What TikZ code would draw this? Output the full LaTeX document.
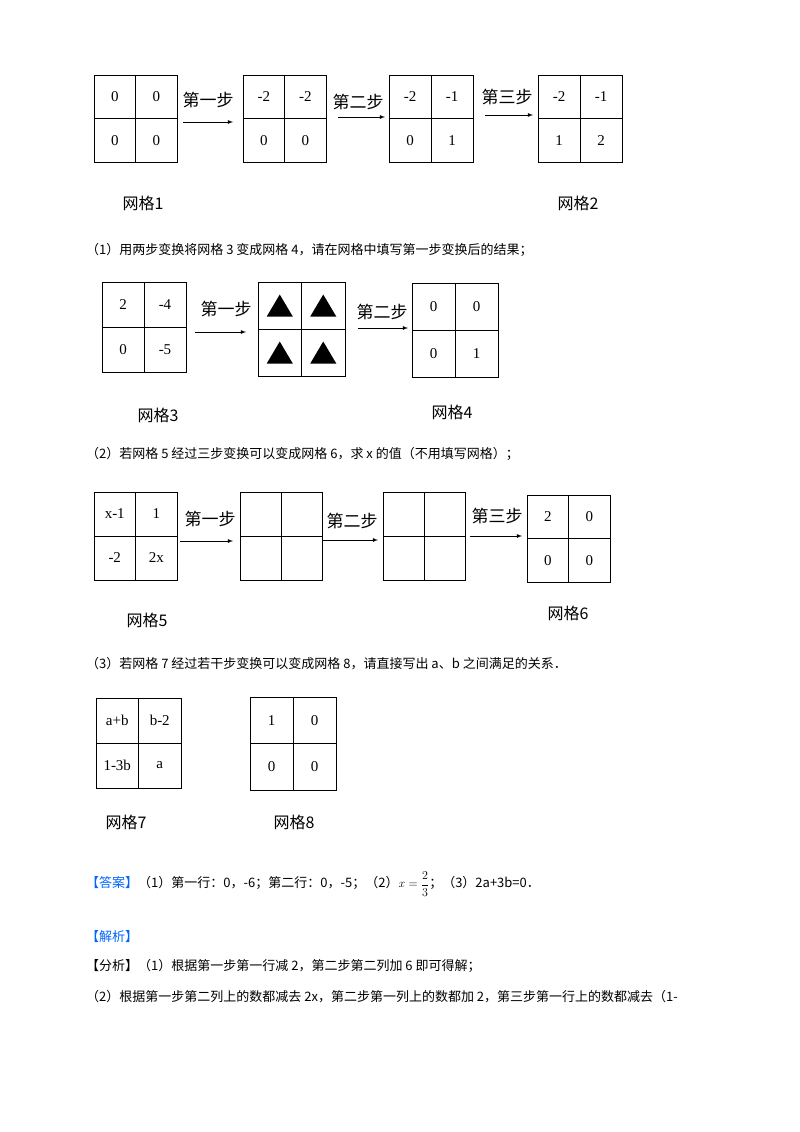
\documentclass[tikz,border=0pt]{standalone}
\usepackage{fontspec}
\setmainfont{Liberation Serif}
\newfontfamily\cjk{Noto Sans CJK SC}
\begin{document}
\begin{tikzpicture}[x=1pt,y=-1pt,
  cell/.style={font=\fontsize{15}{15}\selectfont},
  lab/.style={font=\cjk\fontsize{16}{16}\selectfont},
  steplab/.style={font=\cjk\fontsize{17}{17}\selectfont},
  txt/.style={font=\cjk\fontsize{13}{13}\selectfont,anchor=west,inner sep=0},
  arr/.style={-latex,thick}]
\useasboundingbox[fill=white] (0,0) rectangle (800,1132);
\newcommand\mygrid[9]{%
  \draw[thick] (#2,#3) rectangle (#4,#5);
  \draw[thick] ({(#2+#4)/2},#3) -- ({(#2+#4)/2},#5) (#2,{(#3+#5)/2}) -- (#4,{(#3+#5)/2});
  \node[cell] at ({(3*#2+#4)/4},{(3*#3+#5)/4}) {#6};
  \node[cell] at ({(#2+3*#4)/4},{(3*#3+#5)/4}) {#7};
  \node[cell] at ({(3*#2+#4)/4},{(#3+3*#5)/4}) {#8};
  \node[cell] at ({(#2+3*#4)/4},{(#3+3*#5)/4}) {#9};}
\newcommand\tri{\tikz[x=1pt,y=1pt]\fill (0,0)--(26,0)--(13,22)--cycle;}
% row 1
\mygrid{g1}{94}{75}{177}{162}{0}{0}{0}{0}
\mygrid{g1b}{243}{75}{326}{162}{-2}{-2}{0}{0}
\mygrid{g1c}{389}{75}{473}{162}{-2}{-1}{0}{1}
\mygrid{g2}{538}{75}{622}{162}{-2}{-1}{1}{2}
\node[steplab] (s11) at (208,100) {第一步};
\coordinate (a11) at (183,122); \coordinate (b11) at (233,122);
\draw[arr] (a11) -- (b11);
\node[steplab] (s12) at (358,102) {第二步};
\coordinate (a12) at (338,117); \coordinate (b12) at (385,117);
\draw[arr] (a12) -- (b12);
\node[steplab] (s13) at (507,97) {第三步};
\coordinate (a13) at (485,115); \coordinate (b13) at (533,115);
\draw[arr] (a13) -- (b13);
\node[lab] (l1) at (143,203) {网格1};
\node[lab] (l2) at (578,203) {网格2};
\node[txt] (t1) at (86,250) {（1）用两步变换将网格 3 变成网格 4，请在网格中填写第一步变换后的结果；};
% row 2
\mygrid{g3}{102}{282}{186}{372}{2}{-4}{0}{-5}
\mygrid{gt}{258}{282}{345}{376}{\tri}{\tri}{\tri}{\tri}
\mygrid{g4}{412}{283}{498}{377}{0}{0}{0}{1}
\node[steplab] (s21) at (226,309) {第一步};
\coordinate (a21) at (195,332); \coordinate (b21) at (246,332);
\draw[arr] (a21) -- (b21);
\node[steplab] (s22) at (382,312) {第二步};
\coordinate (a22) at (358,328); \coordinate (b22) at (408,328);
\draw[arr] (a22) -- (b22);
\node[lab] (l3) at (158,415) {网格3};
\node[lab] (l4) at (452,412) {网格4};
\node[txt] (t2) at (86,454) {（2）若网格 5 经过三步变换可以变成网格 6，求 \textit{x} 的值（不用填写网格）；};
% row 3
\mygrid{g5}{94}{492}{177}{580}{x-1}{1}{-2}{2x}
\mygrid{g5b}{240}{492}{322}{580}{}{}{}{}
\mygrid{g5c}{383}{492}{465}{580}{}{}{}{}
\mygrid{g6}{527}{495}{610}{582}{2}{0}{0}{0}
\node[steplab] (s31) at (210,519) {第一步};
\coordinate (a31) at (180,541); \coordinate (b31) at (233,541);
\draw[arr] (a31) -- (b31);
\node[steplab] (s32) at (352,521) {第二步};
\coordinate (a32) at (323,540); \coordinate (b32) at (378,540);
\draw[arr] (a32) -- (b32);
\node[steplab] (s33) at (497,516) {第三步};
\coordinate (a33) at (470,536); \coordinate (b33) at (522,536);
\draw[arr] (a33) -- (b33);
\node[lab] (l5) at (147,620) {网格5};
\node[lab] (l6) at (568,613) {网格6};
\node[txt] (t3) at (86,664) {（3）若网格 7 经过若干步变换可以变成网格 8，请直接写出 \textit{a}、\textit{b} 之间满足的关系．};
% row 4
\mygrid{g7}{96}{698}{181}{788}{a+b}{b-2}{1-3b}{a}
\mygrid{g8}{250}{697}{336}{790}{1}{0}{0}{0}
\node[lab] (l7) at (126,822) {网格7};
\node[lab] (l8) at (294,822) {网格8};
% answers
\node[txt] (ans) at (86,884) {{\color{blue!60!cyan}【答案】}（1）第一行：0，-6；第二行：0，-5；（2）$x=\displaystyle\frac{2}{3}$；（3）2a+3b=0．};
\node[txt] (jx) at (86,937) {\color{blue!60!cyan}【解析】};
\node[txt] (fx) at (86,966) {【分析】（1）根据第一步第一行减 2，第二步第二列加 6 即可得解；};
\node[txt] (f2) at (86,997) {（2）根据第一步第二列上的数都减去 2x，第二步第一列上的数都加 2，第三步第一行上的数都减去（1-};
\end{tikzpicture}
\end{document}
